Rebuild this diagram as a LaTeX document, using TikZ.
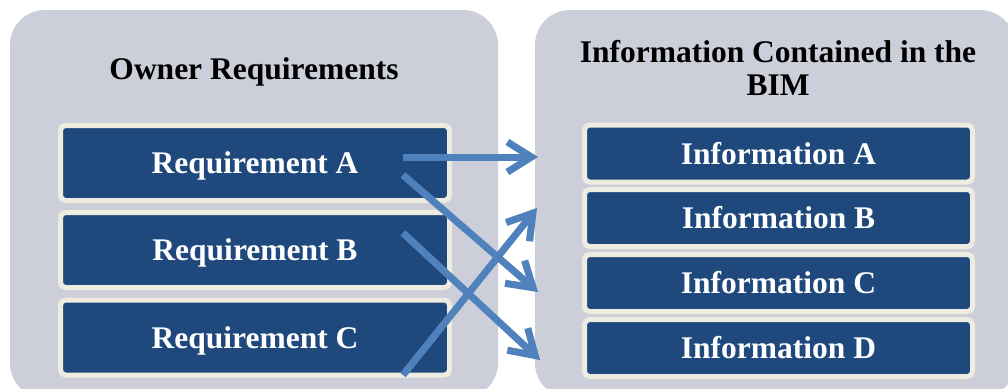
\documentclass[tikz,border=0pt]{standalone}
\usepackage{fontspec}
\setmainfont{Liberation Serif}
\usetikzlibrary{arrows.meta}
\definecolor{panelgrey}{HTML}{CCCFD9}
\definecolor{boxblue}{HTML}{1F497D}
\definecolor{boxcream}{HTML}{EEECE1}
\definecolor{arrowblue}{HTML}{4F81BD}
\tikzset{
  panel/.style={fill=panelgrey, draw=none, rounded corners=35pt},
  reqbox/.style={fill=boxblue, draw=boxcream, line width=5pt, rounded corners=5pt,
    minimum width=389pt, minimum height=75pt, text=white,
    font=\bfseries\fontsize{31.5}{33}\selectfont, text height=21pt, text depth=0pt, inner sep=0pt},
  infobox/.style={reqbox, minimum width=388pt, minimum height=57pt},
  titletext/.style={font=\bfseries\fontsize{31.5}{33}\selectfont, text=black, anchor=base, inner sep=0pt},
  link/.style={draw=arrowblue, line width=7pt, -{Straight Barb[length=24pt, width=30pt]}},
  linkshadow/.style={draw=black!35, opacity=0.35, line width=7pt, -{Straight Barb[length=24pt, width=30pt]}}
}
\begin{document}
\begin{tikzpicture}[x=1pt, y=-1pt]
\useasboundingbox (0,0) rectangle (1008,388);
\clip (0,0) rectangle (1008,388);
\fill[white] (0,0) rectangle (1008,388);
% panels
\path[panel] (10,10) rectangle (498,398);
\path[panel] (535,10) rectangle (1015,398);
% titles
\node[titletext] (t1) at (254,79) {Owner Requirements};
\node[titletext] (t2) at (778,62) {Information Contained in the};
\node[titletext] (t3) at (778,95) {BIM};
% requirement boxes
\node[reqbox] (ra) at (255,163) {Requirement A};
\node[reqbox] (rb) at (255,250) {Requirement B};
\node[reqbox] (rc) at (255,337.5) {Requirement C};
% information boxes
\node[infobox] (ia) at (778.5,153.5) {Information A};
\node[infobox] (ib) at (778.5,218) {Information B};
\node[infobox] (ic) at (778.5,283) {Information C};
\node[infobox] (id) at (778.5,348) {Information D};
% connector end points
\coordinate (sa1) at (403,157);
\coordinate (ea1) at (538,157);
\coordinate (sa2) at (403,175);
\coordinate (ec) at (538,292);
\coordinate (sb) at (403,233);
\coordinate (ed) at (540,360);
\coordinate (sc) at (403,375);
\coordinate (eb) at (537,208);
% connector shadows
\begin{scope}[shift={(2,2)}]
\draw[linkshadow] (sa1) -- (ea1);
\draw[linkshadow] (sa2) -- (ec);
\draw[linkshadow] (sb) -- (ed);
\draw[linkshadow] (sc) -- (eb);
\end{scope}
% connectors
\draw[link] (sa1) -- (ea1);
\draw[link] (sa2) -- (ec);
\draw[link] (sb) -- (ed);
\draw[link] (sc) -- (eb);
\end{tikzpicture}
\end{document}
